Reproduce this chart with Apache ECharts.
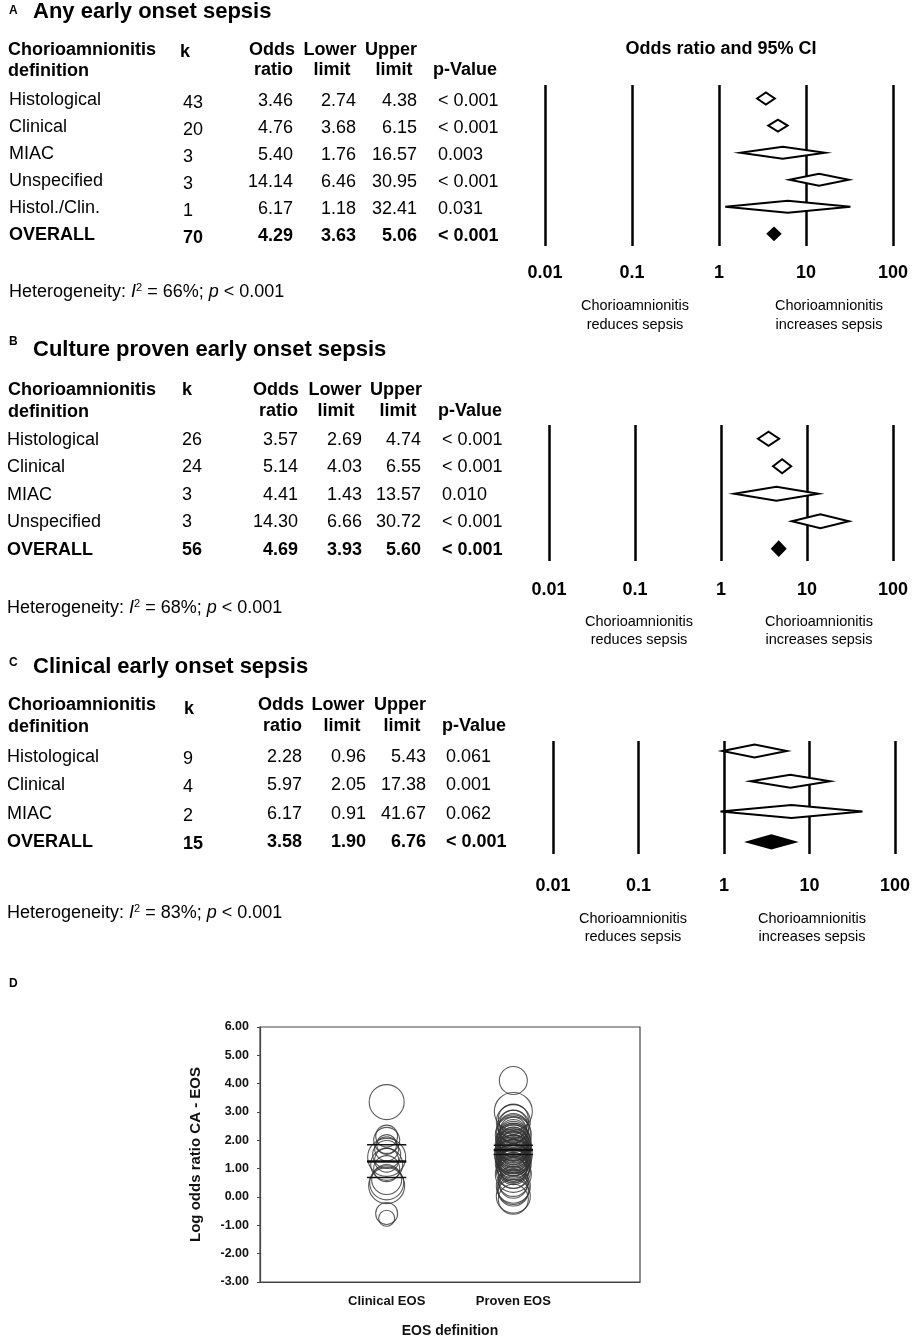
<!DOCTYPE html>
<html>
<head>
<meta charset="utf-8">
<script src="https://cdn.jsdelivr.net/npm/echarts@6/dist/echarts.min.js"></script>
<style>
html,body{margin:0;padding:0;background:#fff;}
#chart{width:913px;height:1339px;}
</style>
</head>
<body>
<div id="chart"></div>
<script>
// ---------------- DATA ----------------
const forestTicks = ['0.01', '0.1', '1', '10', '100'];

// Panel A: Any early onset sepsis
const aTitle = 'Any early onset sepsis';
const aLabels = ['Histological', 'Clinical', 'MIAC', 'Unspecified', 'Histol./Clin.', 'OVERALL'];
const aK = [43, 20, 3, 3, 1, 70];
const aOR = [3.46, 4.76, 5.40, 14.14, 6.17, 4.29];
const aLo = [2.74, 3.68, 1.76, 6.46, 1.18, 3.63];
const aHi = [4.38, 6.15, 16.57, 30.95, 32.41, 5.06];
const aP = ['< 0.001', '< 0.001', '0.003', '< 0.001', '0.031', '< 0.001'];
const aI2 = '66%';
const aHetP = '< 0.001';

// Panel B: Culture proven early onset sepsis
const bTitle = 'Culture proven early onset sepsis';
const bLabels = ['Histological', 'Clinical', 'MIAC', 'Unspecified', 'OVERALL'];
const bK = [26, 24, 3, 3, 56];
const bOR = [3.57, 5.14, 4.41, 14.30, 4.69];
const bLo = [2.69, 4.03, 1.43, 6.66, 3.93];
const bHi = [4.74, 6.55, 13.57, 30.72, 5.60];
const bP = ['< 0.001', '< 0.001', '0.010', '< 0.001', '< 0.001'];
const bI2 = '68%';
const bHetP = '< 0.001';

// Panel C: Clinical early onset sepsis
const cTitle = 'Clinical early onset sepsis';
const cLabels = ['Histological', 'Clinical', 'MIAC', 'OVERALL'];
const cK = [9, 4, 2, 15];
const cOR = [2.28, 5.97, 6.17, 3.58];
const cLo = [0.96, 2.05, 0.91, 1.90];
const cHi = [5.43, 17.38, 41.67, 6.76];
const cP = ['0.061', '0.001', '0.062', '< 0.001'];
const cI2 = '83%';
const cHetP = '< 0.001';

// Panel D: log odds ratio per study, by EOS definition
const dCats = ['Clinical EOS', 'Proven EOS'];
const dClinLogOR = [3.35, 2.15, 2.0, 1.85, 1.7, 1.5, 1.4, 1.3, 1.15, 1.0, 0.62, 0.5, 0.4, -0.58, -0.75];
const dClinWeight = [35, 22, 26, 20, 24, 28, 38, 24, 32, 26, 30, 34, 36, 22, 16];
const dProvLogOR = [4.11, 3.02, 2.75, 2.66, 2.57, 2.5, 2.42, 2.36, 2.3, 2.24, 2.2, 2.14, 2.1, 2.04, 2.0, 1.97,
  1.94, 1.9, 1.87, 1.85, 1.81, 1.79, 1.75, 1.72, 1.7, 1.67, 1.64, 1.6, 1.57, 1.55, 1.51, 1.48, 1.45, 1.42,
  1.4, 1.37, 1.34, 1.3, 1.27, 1.24, 1.2, 1.15, 1.1, 1.04, 1.0, 0.95, 0.9, 0.84, 0.8, 0.55, 0.45, 0.38,
  0.3, 0.21, 0.03, -0.08];
const dProvWeight = [28, 38, 30, 34, 28, 32, 30, 26, 34, 28, 36, 30, 26, 32, 34, 28,
  30, 36, 26, 32, 28, 34, 30, 26, 36, 30, 28, 34, 30, 26, 38, 32, 28, 34, 36, 30, 26, 32, 34, 28,
  36, 30, 34, 28, 32, 26, 34, 30, 36, 30, 28, 34, 32, 30, 34, 30];
const dClinSummary = [1.25, 0.69, 1.84]; // mean, lower, upper
const dProvSummary = [1.66, 1.50, 1.83];

// ---------------- LAYOUT ----------------
const FONT = '"Liberation Sans", Arial, Helvetica, sans-serif';
const layouts = [
  { letter: 'A', letterY: 11, titleY: 12, headY1: 50, headY2: 70, kHeadX: 180, kHeadY: 52,
    rowY0: 100, rowDy: 27, valDy: 1.5, kDy: 3, labelX: 9, kX: 183, orR: 293, loR: 356, hiR: 417, pL: 438,
    oddsR: 295, ratioR: 293, lowerC: 330, limit1C: 332, upperC: 391, limit2C: 394, pHeadL: 433,
    hetX: 9, hetY: 292, annY1: 306, annY2: 325, annRedX: 635, annIncX: 829,
    grid: { left: 545, top: 85, width: 348, height: 161 }, yMin: -0.5, yMax: 5.45, labMargin: 18, halfH: 6 },
  { letter: 'B', letterY: 342, titleY: 350, headY1: 390, headY2: 411, kHeadX: 182, kHeadY: 390,
    rowY0: 440, rowDy: 27.5, valDy: 0, kDy: 0, labelX: 7, kX: 182, orR: 298, loR: 362, hiR: 421, pL: 442,
    oddsR: 299, ratioR: 298, lowerC: 335, limit1C: 336, upperC: 396, limit2C: 398, pHeadL: 438,
    hetX: 7, hetY: 608, annY1: 622, annY2: 640, annRedX: 639, annIncX: 819,
    grid: { left: 549, top: 425, width: 344, height: 136 }, yMin: -0.5, yMax: 4.45, labMargin: 20, halfH: 7 },
  { letter: 'C', letterY: 663, titleY: 667, headY1: 705, headY2: 726, kHeadX: 184, kHeadY: 709,
    rowY0: 757, rowDy: 28.4, valDy: 0, kDy: 2, labelX: 7, kX: 183, orR: 302, loR: 366, hiR: 426, pL: 446,
    oddsR: 304, ratioR: 302, lowerC: 338, limit1C: 342, upperC: 400, limit2C: 402, pHeadL: 442,
    hetX: 7, hetY: 913, annY1: 919, annY2: 937, annRedX: 633, annIncX: 812,
    grid: { left: 553, top: 741, width: 345, height: 113 }, yMin: -0.33, yMax: 3.4, labMargin: 23, halfH: 6.5 }
];
const panels = [
  { title: aTitle, labels: aLabels, k: aK, or: aOR, lo: aLo, hi: aHi, p: aP, i2: aI2, hetP: aHetP },
  { title: bTitle, labels: bLabels, k: bK, or: bOR, lo: bLo, hi: bHi, p: bP, i2: bI2, hetP: bHetP },
  { title: cTitle, labels: cLabels, k: cK, or: cOR, lo: cLo, hi: cHi, p: cP, i2: cI2, hetP: cHetP }
];

function txt(s, x, y, size, bold, align) {
  return { type: 'text', x: x, y: y, silent: true, z: 10,
    style: { text: String(s), fill: '#000', font: (bold ? 'bold ' : '') + size + 'px ' + FONT,
      textAlign: align || 'left', textVerticalAlign: 'middle', verticalAlign: 'middle' } };
}

const graphics = [];
panels.forEach(function (P, pi) {
  const L = layouts[pi];
  graphics.push(txt(L.letter, 9, L.letterY, 12, true, 'left'));
  graphics.push(txt(P.title, 33, L.titleY, 22, true, 'left'));
  // headers
  graphics.push(txt('Chorioamnionitis', 8, L.headY1, 18, true));
  graphics.push(txt('definition', 8, L.headY2 + 1, 18, true));
  graphics.push(txt('k', L.kHeadX, L.kHeadY, 18, true));
  graphics.push(txt('Odds', L.oddsR, L.headY1, 18, true, 'right'));
  graphics.push(txt('ratio', L.ratioR, L.headY2, 18, true, 'right'));
  graphics.push(txt('Lower', L.lowerC, L.headY1, 18, true, 'center'));
  graphics.push(txt('limit', L.limit1C, L.headY2, 18, true, 'center'));
  graphics.push(txt('Upper', L.upperC, L.headY1, 18, true, 'center'));
  graphics.push(txt('limit', L.limit2C, L.headY2, 18, true, 'center'));
  graphics.push(txt('p-Value', L.pHeadL, L.headY2, 18, true));
  // rows
  P.labels.forEach(function (lab, i) {
    const y = L.rowY0 + i * L.rowDy;
    const bold = i === P.labels.length - 1;
    graphics.push(txt(lab, L.labelX, y, 18, bold));
    graphics.push(txt(P.k[i], L.kX, y + L.kDy, 18, bold));
    graphics.push(txt(P.or[i].toFixed(2), L.orR, y + L.valDy, 18, bold, 'right'));
    graphics.push(txt(P.lo[i].toFixed(2), L.loR, y + L.valDy, 18, bold, 'right'));
    graphics.push(txt(P.hi[i].toFixed(2), L.hiR, y + L.valDy, 18, bold, 'right'));
    graphics.push(txt(P.p[i], L.pL, y + L.valDy, 18, bold));
  });
  // heterogeneity
  graphics.push({ type: 'text', x: L.hetX, y: L.hetY, silent: true,
    style: { text: '{n|Heterogeneity: }{i|I}{s|2}{n| = ' + P.i2 + '; }{i|p}{n| ' + P.hetP + '}',
      fill: '#000', textVerticalAlign: 'middle', verticalAlign: 'middle',
      rich: {
        n: { fontSize: 18, fontFamily: FONT, fill: '#000', color: '#000' },
        i: { fontSize: 18, fontFamily: FONT, fontStyle: 'italic', fill: '#000', color: '#000' },
        s: { fontSize: 11, fontFamily: FONT, fill: '#000', color: '#000', verticalAlign: 'top', lineHeight: 20 }
      } } });
  // annotations under forest plot
  graphics.push(txt('Chorioamnionitis', L.annRedX, L.annY1, 14.5, false, 'center'));
  graphics.push(txt('reduces sepsis', L.annRedX, L.annY2, 14.5, false, 'center'));
  graphics.push(txt('Chorioamnionitis', L.annIncX, L.annY1, 14.5, false, 'center'));
  graphics.push(txt('increases sepsis', L.annIncX, L.annY2, 14.5, false, 'center'));
});
graphics.push(txt('Odds ratio and 95% CI', 721, 49, 18, true, 'center'));
graphics.push(txt('D', 9, 984, 12, true, 'left'));

// ---------------- CHART ----------------
function diamondRender(halfH) {
  return function (params, api) {
    const row = api.value(0), or = api.value(1), lo = api.value(2), hi = api.value(3), ov = api.value(4);
    const c = api.coord([or, row]);
    const l = api.coord([lo, row]);
    const h = api.coord([hi, row]);
    return { type: 'polygon',
      shape: { points: [[l[0], c[1]], [c[0], c[1] - halfH], [h[0], c[1]], [c[0], c[1] + halfH]] },
      style: { fill: ov ? '#000' : '#fff', stroke: '#000', lineWidth: 2 } };
  };
}

const grids = [], xAxes = [], yAxes = [], series = [];
layouts.forEach(function (L, gi) {
  const P = panels[gi];
  grids.push(Object.assign({}, L.grid));
  xAxes.push({ type: 'log', logBase: 10, min: 0.01, max: 100, gridIndex: gi,
    axisLine: { show: false }, axisTick: { show: false },
    splitLine: { show: true, showMinLine: true, showMaxLine: true, lineStyle: { color: '#000', width: 2.5 } },
    axisLabel: { show: true, margin: L.labMargin, fontSize: 18, fontWeight: 'bold', color: '#000', fontFamily: FONT,
      formatter: function (v) { return forestTicks[Math.round(Math.log10(v)) + 2]; } } });
  yAxes.push({ type: 'value', gridIndex: gi, inverse: true, min: L.yMin, max: L.yMax,
    axisLine: { show: false }, axisTick: { show: false }, axisLabel: { show: false }, splitLine: { show: false } });
  const data = P.labels.map(function (lab, i) {
    return [i, P.or[i], P.lo[i], P.hi[i], i === P.labels.length - 1 ? 1 : 0];
  });
  series.push({ type: 'custom', xAxisIndex: gi, yAxisIndex: gi, silent: true, clip: false,
    encode: { x: [1, 2, 3], y: 0 }, renderItem: diamondRender(L.halfH), data: data, z: 5 });
});

// Panel D
grids.push({ left: 260, top: 1027, width: 380, height: 256, show: true, borderColor: '#444', borderWidth: 1.2 });
xAxes.push({ type: 'value', gridIndex: 3, min: 0, max: 3, interval: 1,
  axisLine: { show: true, onZero: false, lineStyle: { color: '#444', width: 1.2 } }, axisTick: { show: false },
  splitLine: { show: false },
  axisLabel: { margin: 13, fontSize: 13, fontWeight: 'bold', color: '#111', fontFamily: FONT,
    formatter: function (v) { return dCats[v - 1] || ''; } },
  name: 'EOS definition', nameLocation: 'middle', nameGap: 42,
  nameTextStyle: { fontSize: 14, fontWeight: 'bold', color: '#111', fontFamily: FONT } });
yAxes.push({ type: 'value', gridIndex: 3, min: -3, max: 6, interval: 1,
  axisLine: { show: true, onZero: false, lineStyle: { color: '#444', width: 1.2 } },
  axisTick: { show: true, length: 3, lineStyle: { color: '#444' } },
  splitLine: { show: false },
  axisLabel: { margin: 11, fontSize: 12.5, fontWeight: 'bold', color: '#111', fontFamily: FONT,
    formatter: function (v) { return v.toFixed(2); } },
  name: 'Log odds ratio CA - EOS', nameLocation: 'middle', nameGap: 57, nameRotate: 90,
  nameTextStyle: { fontSize: 15, fontWeight: 'bold', color: '#111', fontFamily: FONT } });

function circles(xv, vals, sizes) {
  return vals.map(function (v, i) { return { value: [xv, v], symbolSize: sizes[i] }; });
}
series.push({ type: 'scatter', xAxisIndex: 3, yAxisIndex: 3, silent: true, symbol: 'circle',
  data: circles(1, dClinLogOR, dClinWeight).concat(circles(2, dProvLogOR, dProvWeight)),
  itemStyle: { color: 'rgba(0,0,0,0)', borderColor: '#333', borderWidth: 1.1 }, z: 3 });
series.push({ type: 'custom', xAxisIndex: 3, yAxisIndex: 3, silent: true, clip: false, z: 4,
  encode: { x: 0, y: 1 },
  data: [[1].concat(dClinSummary), [2].concat(dProvSummary)],
  renderItem: function (params, api) {
    const x = api.value(0);
    const items = [];
    [1, 2, 3].forEach(function (d) {
      const a = api.coord([x - 0.155, api.value(d)]);
      const b = api.coord([x + 0.155, api.value(d)]);
      items.push({ type: 'line', shape: { x1: a[0], y1: a[1], x2: b[0], y2: b[1] },
        style: { stroke: '#111', lineWidth: d === 1 ? 2.5 : 1.5 } });
    });
    return { type: 'group', children: items };
  } });

const chart = echarts.init(document.getElementById('chart'), null, { renderer: 'canvas' });
chart.setOption({
  animation: false,
  backgroundColor: '#fff',
  textStyle: { fontFamily: FONT },
  grid: grids, xAxis: xAxes, yAxis: yAxes, series: series,
  graphic: graphics
});
</script>
</body>
</html>
